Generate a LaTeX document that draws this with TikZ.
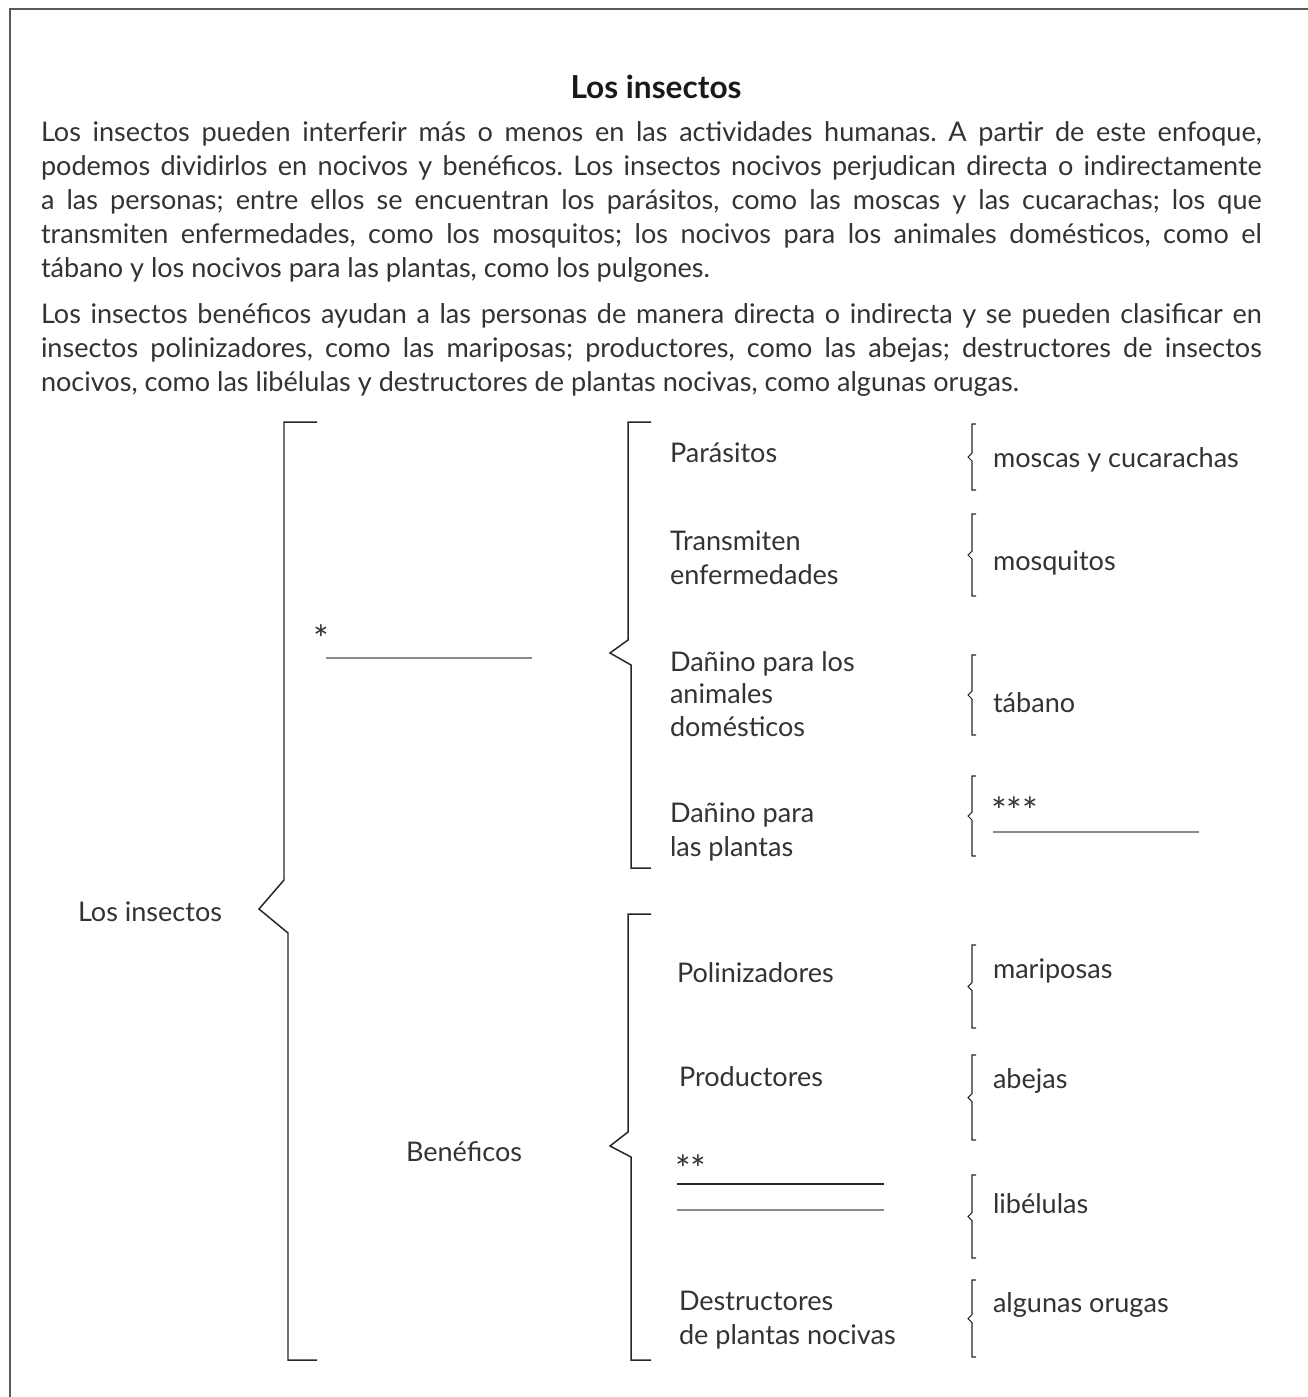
\documentclass[tikz,border=0pt]{standalone}
\usepackage{fontspec}
\setmainfont{Lato}
\definecolor{txt}{HTML}{333333}
\definecolor{frame}{HTML}{5A5A5A}
\definecolor{blank}{HTML}{8A8A8A}
\begin{document}
\frenchspacing
\begin{tikzpicture}[x=0.02cm,y=-0.02cm,
  every node/.style={text=txt, font=\fontsize{15.4}{19.35}\selectfont, inner sep=0pt, outer sep=0pt},
  para/.style={anchor=north west, text width=24.42cm, align=justify},
  lbl/.style={anchor=west, align=left},
  stars/.style={anchor=base west, font=\fontsize{21}{24}\selectfont},
  bigbr/.style={draw=black!85, line width=0.85pt},
  smallbr/.style={draw=black!85, line width=0.6pt},
  blankline/.style={draw=blank, line width=0.8pt},
  frameline/.style={draw=frame, line width=1.1pt}]
\useasboundingbox (0,0) rectangle (1308,1397);
% frame
\draw[frameline] (10,1397) -- (10,9) -- (1308,9);
% title and text
\node[font=\fontsize{18}{22}\selectfont\bfseries, text=black!90] (title) at (656,87) {Los insectos};
\node[para] (p1) at (41,122) {\frenchspacing\hyphenpenalty=10000\exhyphenpenalty=10000\tolerance=10000
Los insectos pueden interferir más o menos en las actividades humanas. A partir de este enfoque,\linebreak
podemos dividirlos en nocivos y benéficos. Los insectos nocivos perjudican directa o indirectamente\linebreak
a las personas; entre ellos se encuentran los parásitos, como las moscas y las cucarachas; los que\linebreak
transmiten enfermedades, como los mosquitos; los nocivos para los animales domésticos, como el\linebreak
tábano y los nocivos para las plantas, como los pulgones.};
\node[para] (p2) at (41,304) {\frenchspacing\hyphenpenalty=10000\exhyphenpenalty=10000\tolerance=10000
Los insectos benéficos ayudan a las personas de manera directa o indirecta y se pueden clasificar en\linebreak
insectos polinizadores, como las mariposas; productores, como las abejas; destructores de insectos\linebreak
nocivos, como las libélulas y destructores de plantas nocivas, como algunas orugas.};
% main bracket
\draw[bigbr] (317,422) -- (284,422) -- (284,880) -- (259,909) -- (288,933) -- (288,1360) -- (317,1360);
\node[lbl] (root) at (78,912) {Los insectos};
% nocivos (blank)
\node[stars] (star1) at (313,652) {*};
\coordinate (b1s) at (326,658);
\coordinate (b1e) at (532,658);
\draw[blankline] (b1s) -- (b1e);
\node[lbl] (benef) at (406,1152) {Benéficos};
% upper bracket
\draw[bigbr] (651,422) -- (628,422) -- (628,640) -- (610,653) -- (631,665) -- (631,868) -- (651,868);
% lower bracket
\draw[bigbr] (651,914) -- (628,914) -- (628,1132) -- (610,1146) -- (631,1157) -- (631,1360) -- (651,1360);
% categories
\node[lbl] (par) at (670,453) {Parásitos};
\node[lbl] (tra) at (670,558) {Transmiten\\enfermedades};
\node[lbl, font=\fontsize{15.4}{18.5}\selectfont] (dan) at (670,694) {Dañino para los\\animales\\domésticos};
\node[lbl] (dpl) at (670,832) {Dañino para\\las plantas};
\node[lbl] (pol) at (677,973) {Polinizadores};
\node[lbl] (pro) at (679,1077) {Productores};
\node[stars] (star2) at (675,1182) {**};
\coordinate (b2s) at (677,1184);
\coordinate (b2e) at (884,1184);
\coordinate (b3s) at (677,1210);
\coordinate (b3e) at (884,1210);
\draw[black!85, line width=0.7pt] (b2s) -- (b2e);
\draw[blankline] (b3s) -- (b3e);
\node[lbl] (des) at (679,1320) {Destructores\\de plantas nocivas};
% small braces
\foreach \yt/\yb in {424/490, 514/596, 655/735, 776/856, 945/1028, 1055/1140, 1175/1258, 1280/1357}{
  \pgfmathsetmacro\yc{(\yt+\yb)/2}
  \draw[smallbr] (976,\yt) -- (972,\yt) -- (972,\yc-4) -- (968,\yc) -- (972,\yc+4) -- (972,\yb) -- (976,\yb);
}
% examples
\node[lbl] (e1) at (993,460) {moscas y cucarachas};
\node[lbl] (e2) at (993,563) {mosquitos};
\node[lbl] (e3) at (993,703) {tábano};
\node[stars] (star3) at (991,824) {***};
\coordinate (b4s) at (993,832);
\coordinate (b4e) at (1199,832);
\draw[blankline] (b4s) -- (b4e);
\node[lbl] (e5) at (993,971) {mariposas};
\node[lbl] (e6) at (993,1081) {abejas};
\node[lbl] (e7) at (993,1204) {libélulas};
\node[lbl] (e8) at (993,1305) {algunas orugas};
\end{tikzpicture}
\end{document}
